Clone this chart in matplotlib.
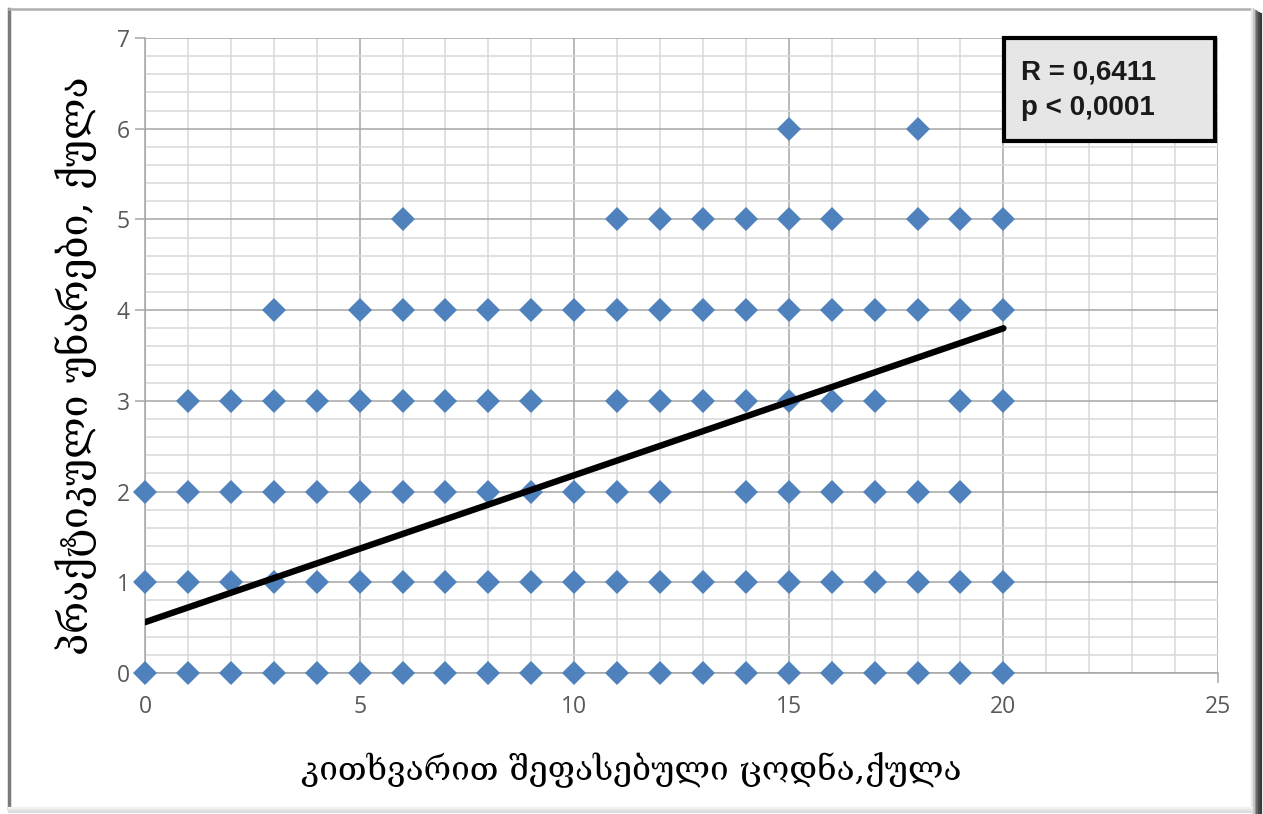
import matplotlib
matplotlib.use("Agg")
import matplotlib.pyplot as plt
from matplotlib.ticker import MultipleLocator
from matplotlib.lines import Line2D
from matplotlib.patches import Rectangle

# ---- data (x values present at each y score level) ----
y0_x = [0, 1, 2, 3, 4, 5, 6, 7, 8, 9, 10, 11, 12, 13, 14, 15, 16, 17, 18, 19, 20]
y1_x = [0, 1, 2, 3, 4, 5, 6, 7, 8, 9, 10, 11, 12, 13, 14, 15, 16, 17, 18, 19, 20]
y2_x = [0, 1, 2, 3, 4, 5, 6, 7, 8, 9, 10, 11, 12, 14, 15, 16, 17, 18, 19]
y3_x = [1, 2, 3, 4, 5, 6, 7, 8, 9, 11, 12, 13, 14, 15, 16, 17, 19, 20]
y4_x = [3, 5, 6, 7, 8, 9, 10, 11, 12, 13, 14, 15, 16, 17, 18, 19, 20]
y5_x = [6, 11, 12, 13, 14, 15, 16, 18, 19, 20]
y6_x = [15, 18]
levels = [0, 1, 2, 3, 4, 5, 6]
rows = [y0_x, y1_x, y2_x, y3_x, y4_x, y5_x, y6_x]

trend_x = [0, 20]
trend_y = [0.56, 3.80]

x_label = "კითხვარით შეფასებული ცოდნა,ქულა"
y_label = "პრაქტიკული უნარები, ქულა"
stats_text = "R = 0,6411\np < 0,0001"

W, H = 1263, 814
fig = plt.figure(figsize=(W / 100, H / 100), dpi=100)
fig.patch.set_facecolor("white")

def fx(px):
    return px / W

def fy(py):
    return 1 - py / H

ax = fig.add_axes([fx(145), fy(673), fx(1218) - fx(145), fy(38) - fy(673)])
ax.set_xlim(0, 25)
ax.set_ylim(0, 7)
ax.xaxis.set_major_locator(MultipleLocator(5))
ax.xaxis.set_minor_locator(MultipleLocator(1))
ax.yaxis.set_major_locator(MultipleLocator(1))
ax.yaxis.set_minor_locator(MultipleLocator(0.2))
ax.grid(which="major", color="#a6a6a6", linewidth=1.1)
ax.grid(which="minor", color="#d9d9d9", linewidth=1.1)
ax.set_axisbelow(True)
for s in ["top", "right"]:
    ax.spines[s].set_visible(False)
for s in ["left", "bottom"]:
    ax.spines[s].set_color("#a6a6a6")
    ax.spines[s].set_linewidth(1.1)
ax.tick_params(which="major", length=7, width=1.1, color="#a6a6a6",
               labelsize=16.5, labelcolor="#595959")
ax.tick_params(axis="x", which="major", pad=9)
ax.tick_params(axis="y", which="major", pad=4)
ax.tick_params(which="minor", length=0)
for lab in ax.get_xticklabels() + ax.get_yticklabels():
    lab.set_fontfamily("Open Sans")

for lvl, xs in zip(levels, rows):
    ax.plot(xs, [lvl] * len(xs), linestyle="none", marker="D", markersize=12.5,
            color="#4f81bd", markeredgewidth=0, clip_on=False, zorder=3)

ax.plot(trend_x, trend_y, color="black", linewidth=4.6, solid_capstyle="round",
        zorder=4)

# stats box
fig.add_artist(Rectangle((fx(1004), fy(141)), fx(1215) - fx(1004), fy(38) - fy(141),
                         transform=fig.transFigure, facecolor="#e6e6e6",
                         edgecolor="black", linewidth=3, zorder=5))
fig.text(fx(1021), fy(90), stats_text, ha="left", va="center", fontsize=20,
         fontweight="bold", family="Liberation Sans", color="#1a1a1a",
         linespacing=1.5, zorder=6)

# axis labels
fig.text(fx(631), fy(770), x_label, ha="center", va="center", fontsize=24,
         family=["DejaVu Serif", "DejaVu Sans"], color="black")
fig.text(fx(76), fy(366), y_label, ha="center", va="center", fontsize=28,
         rotation=90, family=["DejaVu Serif", "DejaVu Sans"], color="black")

# outer frame
fig.add_artist(Line2D([fx(9), fx(9)], [fy(9), fy(808)], transform=fig.transFigure,
                      color="#7a7a7a", linewidth=2.5))
fig.add_artist(Line2D([fx(9), fx(1252)], [fy(9), fy(9)], transform=fig.transFigure,
                      color="#b0b0b0", linewidth=1.8))
for i, c in enumerate(["#e8e8e8", "#c8c8c8", "#9a9a9a", "#6a6a6a", "#4a4a4a", "#3a3a3a"]):
    xp = 1252 + i * 1.8
    fig.add_artist(Line2D([fx(xp), fx(xp)], [fy(9 + i), fy(814)], transform=fig.transFigure,
                          color=c, linewidth=1.6))
for i, c in enumerate(["#f2f2f2", "#e6e6e6", "#dcdcdc"]):
    yp = 808 + i * 2
    fig.add_artist(Line2D([fx(9), fx(1252)], [fy(yp), fy(yp)], transform=fig.transFigure,
                          color=c, linewidth=1.6))

fig.savefig("out.png", dpi=100, facecolor="white")
